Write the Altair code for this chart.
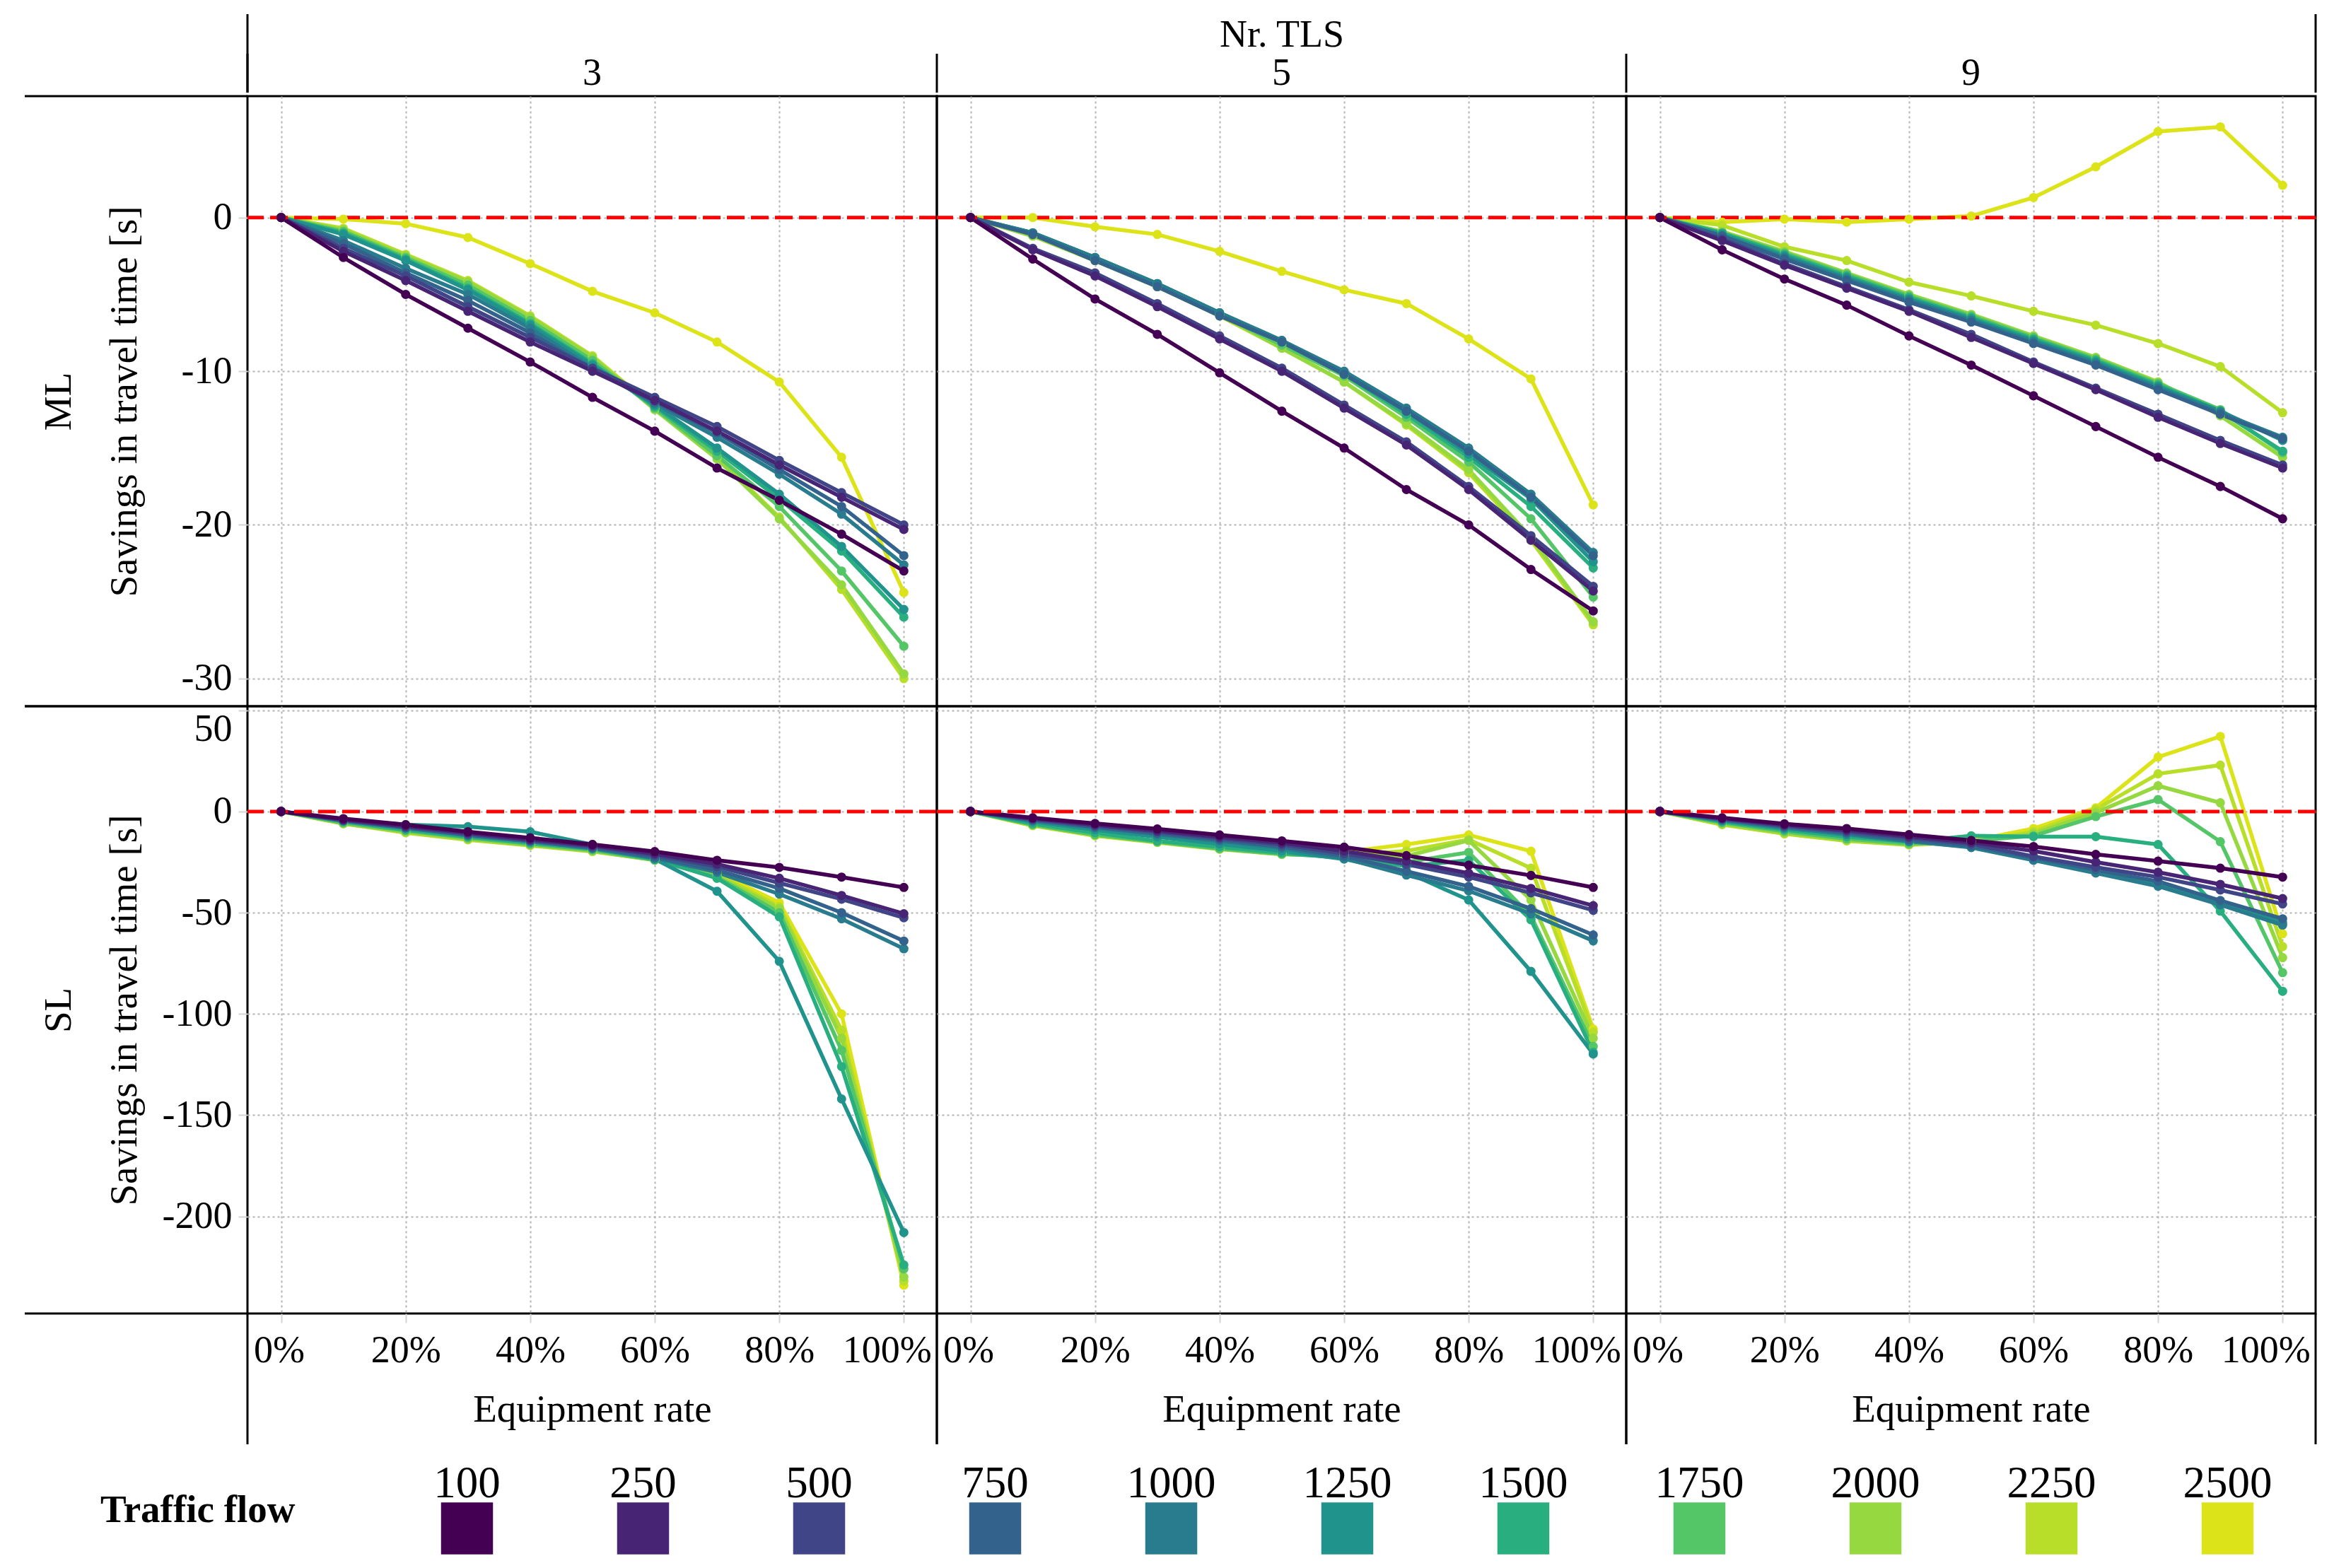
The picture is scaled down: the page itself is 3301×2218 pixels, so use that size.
import altair as alt
import pandas as pd

FONT = "Liberation Serif"

FLOWS = [100, 250, 500, 750, 1000, 1250, 1500, 1750, 2000, 2250, 2500]
COLORS = ["#440154", "#482475", "#404588", "#33638D", "#287C8E", "#20938C",
          "#29AF7F", "#55C667", "#95D840", "#B8DE29", "#DCE319"]
RATES = [0.0, 0.1, 0.2, 0.3, 0.4, 0.5, 0.6, 0.7, 0.8, 0.9, 1.0]
TLS = [3, 5, 9]
RATE_TICKS = [0.0, 0.2, 0.4, 0.6, 0.8, 1.0]
Y_TICKS = {"ML": [-30, -20, -10, 0], "SL": [-200, -150, -100, -50, 0, 50]}
Y_DOMAIN = {"ML": [-31.8, 7.9], "SL": [-248, 52]}

# one row per traffic flow (100 ... 2500), one value per equipment rate (0% ... 100%)
ML_3 = [
    [0, -2.6, -5.0, -7.2, -9.4, -11.7, -13.9, -16.3, -18.4, -20.6, -23.0],
    [0, -2.2, -4.1, -6.1, -8.1, -10.0, -11.9, -13.9, -16.1, -18.2, -20.3],
    [0, -2.0, -3.8, -5.8, -7.8, -9.8, -11.7, -13.6, -15.8, -17.9, -20.0],
    [0, -1.7, -3.6, -5.4, -7.5, -9.9, -12.0, -14.0, -16.4, -18.8, -22.0],
    [0, -1.5, -3.3, -5.0, -7.2, -9.8, -12.1, -14.3, -16.7, -19.3, -22.6],
    [0, -1.1, -2.8, -4.7, -7.0, -9.6, -12.2, -15.0, -18.0, -21.4, -25.5],
    [0, -1.0, -2.7, -4.6, -6.9, -9.5, -12.3, -15.2, -18.3, -21.7, -26.0],
    [0, -0.9, -2.6, -4.4, -6.7, -9.3, -12.4, -15.5, -18.8, -23.0, -27.9],
    [0, -0.8, -2.5, -4.2, -6.5, -9.1, -12.5, -15.7, -19.6, -23.9, -29.7],
    [0, -0.7, -2.4, -4.1, -6.4, -9.0, -12.4, -15.6, -19.5, -24.2, -30.0],
    [0, -0.1, -0.4, -1.3, -3.0, -4.8, -6.2, -8.1, -10.7, -15.6, -24.4],
]
ML_5 = [
    [0, -2.7, -5.3, -7.6, -10.1, -12.6, -15.0, -17.7, -20.0, -22.9, -25.6],
    [0, -2.1, -3.8, -5.8, -7.9, -10.0, -12.4, -14.8, -17.7, -21.0, -24.3],
    [0, -2.0, -3.6, -5.6, -7.7, -9.8, -12.2, -14.6, -17.5, -20.7, -24.0],
    [0, -1.1, -2.8, -4.5, -6.4, -8.1, -10.2, -12.6, -15.2, -18.2, -22.0],
    [0, -1.0, -2.6, -4.3, -6.2, -8.0, -10.0, -12.4, -15.0, -18.0, -21.8],
    [0, -1.0, -2.6, -4.3, -6.2, -8.0, -10.1, -12.6, -15.4, -18.3, -22.4],
    [0, -1.0, -2.6, -4.3, -6.2, -8.1, -10.2, -12.8, -15.6, -18.8, -22.8],
    [0, -1.1, -2.7, -4.4, -6.3, -8.3, -10.3, -13.0, -15.9, -19.6, -24.7],
    [0, -1.2, -2.8, -4.5, -6.3, -8.5, -10.7, -13.4, -16.4, -20.8, -26.3],
    [0, -1.2, -2.8, -4.5, -6.4, -8.5, -10.7, -13.5, -16.6, -21.0, -26.5],
    [0, 0.0, -0.6, -1.1, -2.2, -3.5, -4.7, -5.6, -7.9, -10.5, -18.7],
]
ML_9 = [
    [0, -2.1, -4.0, -5.7, -7.7, -9.6, -11.6, -13.6, -15.6, -17.5, -19.6],
    [0, -1.5, -3.1, -4.6, -6.1, -7.8, -9.5, -11.2, -13.0, -14.7, -16.3],
    [0, -1.4, -3.0, -4.5, -6.0, -7.6, -9.4, -11.1, -12.8, -14.5, -16.1],
    [0, -1.2, -2.7, -4.1, -5.5, -6.8, -8.2, -9.6, -11.2, -12.8, -14.4],
    [0, -1.2, -2.6, -4.0, -5.4, -6.7, -8.1, -9.5, -11.1, -12.7, -14.3],
    [0, -1.1, -2.5, -3.9, -5.3, -6.6, -8.0, -9.4, -11.0, -12.6, -14.5],
    [0, -1.0, -2.4, -3.8, -5.2, -6.5, -7.9, -9.3, -10.9, -12.6, -15.2],
    [0, -1.0, -2.3, -3.7, -5.1, -6.4, -7.8, -9.2, -10.8, -12.5, -15.3],
    [0, -0.9, -2.2, -3.6, -5.0, -6.3, -7.7, -9.1, -10.7, -12.9, -15.6],
    [0, -0.5, -1.9, -2.8, -4.2, -5.1, -6.1, -7.0, -8.2, -9.7, -12.7],
    [0, -0.3, -0.1, -0.3, -0.1, 0.1, 1.3, 3.3, 5.6, 5.9, 2.1],
]
SL_3 = [
    [0, -3.5, -6.5, -10.0, -13.0, -16.3, -19.8, -24.1, -27.6, -32.4, -37.5],
    [0, -4.0, -7.2, -10.5, -13.8, -16.8, -20.8, -26.0, -33.0, -41.5, -50.5],
    [0, -4.2, -7.5, -11.0, -14.2, -17.2, -21.5, -27.2, -35.3, -43.3, -52.5],
    [0, -4.5, -8.0, -11.5, -14.5, -17.8, -22.5, -29.0, -38.0, -50.0, -64.0],
    [0, -4.6, -8.2, -11.8, -14.8, -18.2, -23.0, -30.0, -40.8, -53.0, -67.8],
    [0, -4.0, -6.5, -7.5, -10.0, -16.3, -23.5, -39.4, -74.0, -142.0, -208.0],
    [0, -5.0, -9.0, -12.5, -15.5, -18.5, -23.5, -33.0, -52.0, -126.0, -224.0],
    [0, -5.5, -9.5, -13.0, -16.0, -19.0, -24.0, -32.5, -50.0, -118.0, -226.0],
    [0, -6.0, -10.0, -13.5, -16.5, -19.5, -24.0, -32.0, -48.0, -112.0, -230.0],
    [0, -6.0, -10.5, -14.0, -16.8, -19.8, -24.0, -31.0, -47.0, -108.0, -232.0],
    [0, -5.5, -10.0, -13.5, -16.5, -19.5, -23.5, -30.0, -45.0, -100.0, -234.0],
]
SL_5 = [
    [0, -3.1, -5.9, -8.6, -11.6, -14.5, -17.6, -21.8, -26.5, -31.6, -37.5],
    [0, -3.5, -6.5, -9.5, -12.5, -15.5, -19.5, -24.5, -30.5, -38.0, -46.5],
    [0, -3.8, -7.0, -10.0, -13.2, -16.3, -20.8, -26.1, -32.4, -40.2, -48.8],
    [0, -4.2, -7.6, -10.8, -14.0, -17.3, -22.0, -29.5, -37.0, -48.0, -61.0],
    [0, -4.5, -8.0, -11.3, -14.6, -18.0, -23.1, -31.4, -39.2, -50.6, -63.9],
    [0, -5.0, -9.0, -12.5, -16.0, -19.5, -23.5, -30.0, -43.7, -79.0, -119.8],
    [0, -6.0, -10.5, -14.5, -17.5, -20.5, -23.0, -27.0, -24.1, -53.5, -119.0],
    [0, -6.5, -11.5, -15.0, -18.3, -21.0, -22.5, -25.0, -20.2, -51.6, -116.0],
    [0, -6.5, -11.5, -15.0, -18.5, -21.0, -22.0, -22.0, -14.3, -43.7, -112.0],
    [0, -7.0, -12.0, -15.3, -18.6, -21.2, -21.5, -19.5, -13.9, -28.0, -109.0],
    [0, -6.8, -11.8, -15.0, -18.3, -20.8, -20.0, -16.3, -11.6, -19.6, -107.5],
]
SL_9 = [
    [0, -3.1, -6.1, -8.4, -11.4, -14.3, -17.3, -21.2, -24.5, -28.0, -32.4],
    [0, -3.4, -6.6, -9.2, -12.3, -15.2, -19.5, -25.0, -30.0, -36.0, -43.0],
    [0, -3.6, -7.0, -9.8, -13.0, -16.0, -22.2, -27.5, -32.4, -38.8, -45.7],
    [0, -4.0, -7.5, -10.5, -14.0, -17.0, -22.8, -28.8, -34.5, -44.0, -53.0],
    [0, -4.2, -7.8, -11.0, -14.6, -17.8, -24.1, -30.4, -36.9, -46.1, -56.1],
    [0, -4.5, -8.3, -11.5, -14.8, -17.5, -23.0, -29.0, -35.5, -45.0, -55.0],
    [0, -5.0, -9.0, -12.5, -15.0, -12.0, -12.4, -12.4, -16.3, -49.2, -88.8],
    [0, -5.5, -9.8, -13.5, -15.8, -14.5, -12.0, -2.5, 5.9, -14.9, -79.6],
    [0, -6.0, -10.5, -14.0, -16.2, -15.0, -11.0, -0.6, 12.7, 4.3, -72.2],
    [0, -6.5, -11.0, -14.5, -16.5, -15.0, -10.0, 1.0, 18.6, 22.9, -66.7],
    [0, -6.3, -11.0, -14.3, -16.3, -14.5, -8.4, 1.8, 26.9, 37.1, -60.4],
]

SERIES = {
    ("ML", 3): ML_3, ("ML", 5): ML_5, ("ML", 9): ML_9,
    ("SL", 3): SL_3, ("SL", 5): SL_5, ("SL", 9): SL_9,
}

rows = []
for (lane, tls), table in SERIES.items():
    for flow, values in zip(FLOWS, table):
        for rate, v in zip(RATES, values):
            rows.append({"lane": lane, "tls": tls, "flow": flow, "rate": rate, "saving": v})
# highest flow first so the low flows end up drawn on top
df = pd.DataFrame(rows).sort_values("flow", ascending=False, kind="stable")

W = 975
H = {"ML": 863, "SL": 859}
ONE = pd.DataFrame({"k": [0]})
NO_STROKE = alt.ViewBackground(strokeOpacity=0)
PANEL_VIEW = alt.ViewBackground(stroke="black", strokeWidth=3)

color = alt.Color("flow:O", scale=alt.Scale(domain=FLOWS, range=COLORS), legend=None)


def frame_rule(**enc):
    return alt.Chart(ONE).mark_rule(color="black", strokeWidth=3).encode(**enc)


def panel(lane, tls, col):
    sub = df[(df.lane == lane) & (df.tls == tls)]
    h = H[lane]
    if lane == "SL":
        x_axis = alt.Axis(values=RATE_TICKS, format=".0%", title="Equipment rate",
                          domain=False, tickSize=13, labelPadding=12, titlePadding=30,
                          labelFontSize=54, titleFontSize=55,
                          labelFlush=50, labelFlushOffset=39)
    else:
        x_axis = alt.Axis(values=RATE_TICKS, labels=False, ticks=False, title=None, domain=False)
    if col == 0:
        y_axis = alt.Axis(values=Y_TICKS[lane], labelExpr="'' + datum.value",
                          title=[lane, "Savings in travel time [s]"], titleLineHeight=93,
                          titlePadding=26, minExtent=120, maxExtent=120,
                          domain=False, tickSize=13, labelPadding=9, labelFlush=12,
                          labelFontSize=54, titleFontSize=55)
    else:
        y_axis = alt.Axis(values=Y_TICKS[lane], labels=False, ticks=False, title=None, domain=False)

    x = alt.X("rate:Q", scale=alt.Scale(domain=[-0.054, 1.053], nice=False), axis=x_axis)
    y = alt.Y("saving:Q", scale=alt.Scale(domain=Y_DOMAIN[lane], nice=False, zero=False), axis=y_axis)

    base = alt.Chart(sub).encode(x=x, y=y, color=color)
    lines = base.mark_line(strokeWidth=5.5)
    points = base.mark_circle(size=170, opacity=1)
    zero = alt.Chart(pd.DataFrame({"saving": [0]})).mark_rule(
        color="#FF0000", strokeWidth=5, strokeDash=[25, 9]
    ).encode(y=y)

    layers = [lines, zero, points]
    if col == 0:
        layers += [frame_rule(x=alt.value(-315), x2=alt.value(0), y=alt.value(0)),
                   frame_rule(x=alt.value(-315), x2=alt.value(0), y=alt.value(h))]
    if lane == "SL":
        layers += [frame_rule(x=alt.value(0), y=alt.value(h), y2=alt.value(h + 185)),
                   frame_rule(x=alt.value(W), y=alt.value(h), y2=alt.value(h + 185))]
    return alt.layer(*layers).properties(width=W, height=h, view=PANEL_VIEW)


panels = [panel(lane, tls, c) for lane in ["ML", "SL"] for c, tls in enumerate(TLS)]
grid = alt.concat(*panels, columns=3, spacing=0, bounds="flush")

# column strip: "Nr. TLS" over the three TLS labels
hdr = pd.DataFrame({"tls": [str(t) for t in TLS]})
hx = alt.X("tls:N", bandPosition=0,
           scale=alt.Scale(type="band", paddingInner=0, paddingOuter=0),
           axis=alt.Axis(orient="top", title="Nr. TLS", domain=False, ticks=False, grid=False,
                         labelAngle=0, labelPadding=0, titlePadding=0,
                         labelFontSize=54, titleFontSize=54))
header = alt.layer(
    alt.Chart(hdr).mark_rule(color="black", strokeWidth=3).encode(x=hx, y=alt.value(-54), y2=alt.value(1)),
    frame_rule(x=alt.value(0), y=alt.value(-110), y2=alt.value(1)),
    frame_rule(x=alt.value(3 * W), y=alt.value(-110), y2=alt.value(1)),
).properties(width=3 * W, height=1, view=NO_STROKE)

# legend row: labels above colour swatches
leg = pd.DataFrame({"flow": FLOWS, "key": ["Traffic flow"] * len(FLOWS)})
lx = alt.X("flow:O", sort=FLOWS,
           scale=alt.Scale(type="band", paddingInner=0, paddingOuter=0.3735, align=1), axis=None)
ly = alt.Y("key:N", axis=alt.Axis(title=None, domain=False, ticks=False, tickSize=0,
                                  labelFontSize=55, labelFontWeight="bold", labelLimit=600,
                                  labelPadding=-67, labelOffset=9))
swatches = alt.Chart(leg).mark_square(size=5400, opacity=1, yOffset=36).encode(x=lx, y=ly, color=color)
numbers = alt.Chart(leg).mark_text(fontSize=63, font=FONT, yOffset=-27, color="black").encode(
    x=lx, y=ly, text="flow:O")
legend = alt.layer(swatches, numbers).properties(width=3 * W, height=160, view=NO_STROKE)

chart = (
    alt.vconcat(header, grid, legend, spacing=0)
    .properties(padding={"left": 24, "top": 10, "right": 5, "bottom": 5})
    .configure(font=FONT)
    .configure_axis(labelFont=FONT, titleFont=FONT, labelColor="black", titleColor="black",
                    titleFontWeight="normal", gridColor="#b3b3b3", gridDash=[3, 4], gridWidth=2,
                    tickColor="#d4d4d4", tickWidth=2)
    .configure_view(stroke="black", strokeWidth=3)
    .configure_text(font=FONT)
)

chart.save("out.html", embed_options={"renderer": "svg", "actions": False})
